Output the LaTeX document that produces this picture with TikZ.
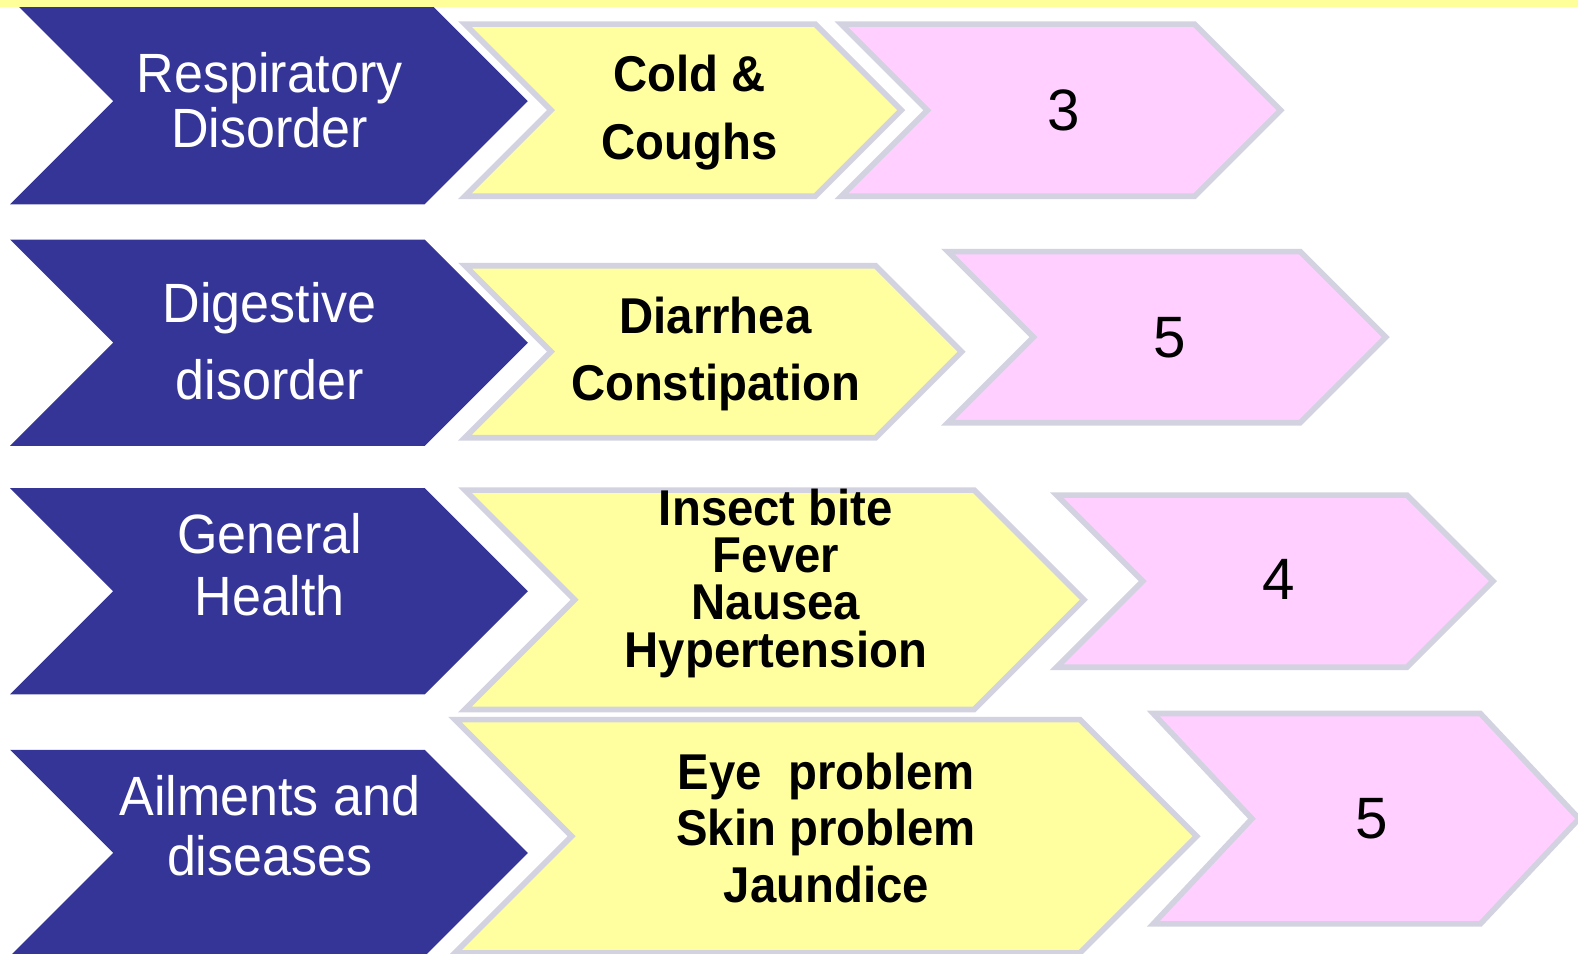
\documentclass[tikz,border=0pt]{standalone}
\usepackage{fontspec}
\usepackage{xcolor}
\usepackage{tikz}
\newfontfamily\chevfont[FakeStretch=0.94]{Liberation Sans}
\newfontfamily\numfont{Liberation Sans}
\definecolor{navychev}{RGB}{53,53,152}
\definecolor{lemonchev}{RGB}{255,255,160}
\definecolor{pinkchev}{RGB}{255,208,255}
\definecolor{rimgray}{RGB}{210,210,225}
\definecolor{topstrip}{RGB}{255,255,153}

\begin{document}
\begin{tikzpicture}[
      x=0.5pt, y=-0.5pt,
      group/.style   = {fill=navychev},
      ailment/.style = {fill=lemonchev, draw=rimgray, line width=2.8pt,
                        line join=miter},
      count/.style   = {fill=pinkchev, draw=rimgray, line width=2.8pt,
                        line join=miter},
      grouptext/.style   = {font=\chevfont\fontsize{27.5}{#1}\selectfont,
                            text=white, align=center, anchor=base,
                            inner sep=0pt},
      ailmenttext/.style = {font=\chevfont\bfseries\fontsize{25}{#1}\selectfont,
                            align=center, anchor=base, inner sep=0pt},
      counttext/.style   = {font=\numfont\fontsize{29}{34}\selectfont,
                            anchor=base, inner sep=0pt}
    ]
    \useasboundingbox (0,0) rectangle (1568,947);
    \clip (0,0) rectangle (1568,947);

    % row 1
    \fill[group]  (10,-2) -- (422,-2) -- ++(102.5,102.5) -- ++(-102.5,102.5)
                  -- (10,203) -- ++(102.5,-102.5) -- cycle;
    \draw[ailment] (462,24) -- (810,24) -- ++(85.5,85.5) -- ++(-85.5,85.5)
                  -- (462,195) -- ++(85.5,-85.5) -- cycle;
    \draw[count]  (836,24) -- (1187,24) -- ++(85.5,85.5) -- ++(-85.5,85.5)
                  -- (836,195) -- ++(85.5,-85.5) -- cycle;

    % row 2
    \fill[group]  (10,238) -- (422,238) -- ++(102.5,102.5) -- ++(-102.5,102.5)
                  -- (10,443) -- ++(102.5,-102.5) -- cycle;
    \draw[ailment] (462,264) -- (870,264) -- ++(85.5,85.5) -- ++(-85.5,85.5)
                  -- (462,435) -- ++(85.5,-85.5) -- cycle;
    \draw[count]  (942,250) -- (1292,250) -- ++(85,85) -- ++(-85,85)
                  -- (942,420) -- ++(85,-85) -- cycle;

    % row 3
    \fill[group]  (10,485) -- (422,485) -- ++(102.5,102.5) -- ++(-102.5,102.5)
                  -- (10,690) -- ++(102.5,-102.5) -- cycle;
    \draw[ailment] (462,487) -- (968,487) -- ++(109,109) -- ++(-109,109)
                  -- (462,705) -- ++(109,-109) -- cycle;
    \draw[count]  (1050,492) -- (1398,492) -- ++(85.5,85.5) -- ++(-85.5,85.5)
                  -- (1050,663) -- ++(85.5,-85.5) -- cycle;

    % row 4
    \fill[group]  (10,745) -- (422,745) -- ++(102.5,102.5) -- ++(-102.5,102.5)
                  -- (10,950) -- ++(102.5,-102.5) -- cycle;
    \draw[ailment] (452,715) -- (1073,715) -- ++(116,116) -- ++(-116,116)
                  -- (452,947) -- ++(116,-116) -- cycle;
    \draw[count]  (1146,709) -- (1471,709) -- ++(98,104.5) -- ++(-98,104.5)
                  -- (1146,918) -- ++(98,-104.5) -- cycle;

    \fill[topstrip] (0,0) rectangle (1568,7);

    % labels (anchored at the baseline of the last line)
    \node[grouptext=27.5pt] (resp) at (268,147) {Respiratory\\Disorder};
    \node[grouptext=38.5pt] (dige) at (268,397) {Digestive\\disorder};
    \node[grouptext=31pt]   (genh) at (268,612) {General\\Health};
    \node[grouptext=30pt]   (ailm) at (268,870) {Ailments and\\diseases};

    \node[ailmenttext=33.5pt]  (cold)  at (685,158) {Cold \&\\Coughs};
    \node[ailmenttext=33.5pt]  (diar)  at (711,398) {Diarrhea\\Constipation};
    \node[ailmenttext=23.5pt]  (insb)  at (771,663) {Insect bite\\Fever\\Nausea\\Hypertension};
    \node[ailmenttext=28.25pt] (eyep)  at (821,897) {Eye\ \ problem\\Skin problem\\Jaundice};

    \node[counttext] (nresp) at (1057,130) {3};
    \node[counttext] (ndige) at (1162,355) {5};
    \node[counttext] (ngenh) at (1271,596) {4};
    \node[counttext] (nailm) at (1363,833) {5};
  \end{tikzpicture}
\end{document}
